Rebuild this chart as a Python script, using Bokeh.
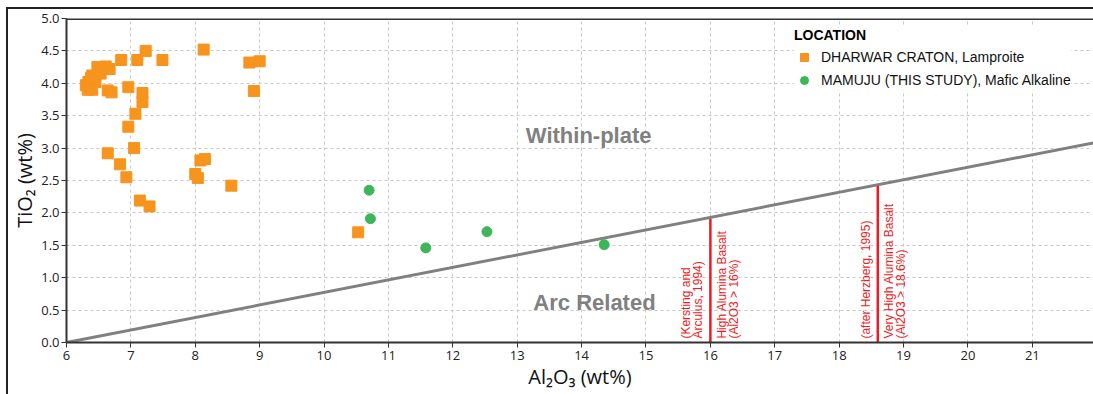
from bokeh.plotting import figure
from bokeh.models import (ColumnDataSource, Span, Legend, LegendItem, Range1d,
                          FixedTicker, CustomJSTickFormatter)
from bokeh.core.properties import value
from bokeh.embed import file_html
from bokeh.resources import INLINE
import math

# ---- data ----
dharwar_al2o3 = [7.23, 6.85, 7.10, 7.49, 8.13, 8.84, 9.00, 8.91,
                 6.30, 6.34, 6.33, 6.40, 6.40, 6.45, 6.48, 6.53, 6.61, 6.67, 6.64, 6.70, 6.38, 6.56,
                 6.96, 7.18, 7.18, 7.07, 6.96, 7.05, 6.64, 6.83, 6.93, 7.14, 7.29,
                 8.08, 8.15, 8.00, 8.04, 8.56, 10.53]
dharwar_tio2 = [4.50, 4.36, 4.36, 4.36, 4.52, 4.32, 4.34, 3.88,
                3.97, 4.02, 3.90, 3.90, 4.12, 4.02, 4.25, 4.15, 4.26, 4.22, 3.89, 3.86, 4.08, 4.22,
                3.94, 3.85, 3.71, 3.53, 3.33, 3.00, 2.92, 2.75, 2.55, 2.19, 2.10,
                2.81, 2.83, 2.60, 2.54, 2.42, 1.70]
mamuju_al2o3 = [10.70, 10.72, 11.58, 12.53, 14.35]
mamuju_tio2 = [2.35, 1.91, 1.46, 1.71, 1.51]

boundary_x = [6.0, 22.0]
boundary_y = [0.0, 3.09]

hab_x = [16.0, 18.6]
hab_top = [1.91, 2.42]

ref_texts = ["(Kersting and", "Arculus, 1994)", "High Alumina Basalt", "(Al2O3 > 16%)",
             "(after Herzberg, 1995)", "Very High Alumina Basalt", "(Al2O3 > 18.6%)"]
ref_x = [16.0, 16.0, 16.0, 16.0, 18.6, 18.6, 18.6]
ref_dx = [-24, -12, 12, 24, -12, 11, 23]

region_texts = ["Within-plate", "Arc Related"]
region_x = [14.11, 14.2]
region_y = [3.19, 0.62]

x_ticks = list(range(6, 23))
y_ticks = [0.0, 0.5, 1.0, 1.5, 2.0, 2.5, 3.0, 3.5, 4.0, 4.5, 5.0]

ORANGE = "#F7941D"
GREEN = "#3DB65A"
RED = "#ED1C24"

p = figure(width=1085, height=385, output_backend="svg", toolbar_location=None,
           x_range=Range1d(6, 21.95), y_range=Range1d(0, 5.0),
           min_border_left=56, min_border_right=0, min_border_top=9, min_border_bottom=52)
p.margin = (9, 0, 0, 8)
p.styles = {"outline": "2px solid #222"}
p.outline_line_color = None
p.background_fill_color = "white"

# grid
for g in (p.xgrid[0], p.ygrid[0]):
    g.grid_line_color = "#c8c8c8"
    g.grid_line_dash = "3 3"
    g.grid_line_width = 1
p.xaxis.ticker = FixedTicker(ticks=x_ticks)
p.yaxis.ticker = FixedTicker(ticks=y_ticks)
p.yaxis.formatter = CustomJSTickFormatter(code="return tick.toFixed(1);")

for ax in (p.xaxis[0], p.yaxis[0]):
    ax.axis_line_color = "#333333"
    ax.axis_line_width = 2
    ax.major_tick_line_color = "#333333"
    ax.major_tick_out = 5
    ax.major_tick_in = 0
    ax.minor_tick_line_color = None
    ax.major_label_text_font = "Open Sans"
    ax.major_label_text_font_size = "13px"
    ax.major_label_text_color = "#222222"
    ax.axis_label_text_font = "Open Sans"
    ax.axis_label_text_font_style = "normal"
    ax.axis_label_text_color = "#111111"
p.xaxis.axis_label = "Al₂O₃ (wt%)"
p.yaxis.axis_label = "TiO₂ (wt%)"
p.xaxis.axis_label_text_font_size = "20px"
p.yaxis.axis_label_text_font_size = "20px"
p.xaxis.major_label_standoff = 3
p.yaxis.major_label_standoff = 2
p.xaxis.axis_label_standoff = 0
p.yaxis.axis_label_standoff = 0

# top frame line
p.add_layout(Span(location=5.0, dimension="width", line_color="#333333", line_width=3))

# boundary line
p.line(boundary_x, boundary_y, line_color="#808080", line_width=3)

# red lines
p.segment(x0=hab_x, y0=[0, 0], x1=hab_x, y1=hab_top, line_color=RED, line_width=2.5)

src = ColumnDataSource(dict(x=ref_x, y=[0.06] * len(ref_x), text=ref_texts, dx=ref_dx))
p.text(x="x", y="y", text="text", x_offset="dx", source=src, angle=math.pi / 2,
       text_align="left", text_baseline="middle", text_color=RED,
       text_font=value("Liberation Sans"), text_font_size="12px")

# region labels
p.text(x=region_x, y=region_y, text=region_texts,
       text_align="center", text_baseline="middle", text_color="#808080",
       text_font=value("Liberation Sans"), text_font_size="22px", text_font_style="bold")

r1 = p.scatter(dharwar_al2o3, dharwar_tio2, marker="square", size=11,
               fill_color=ORANGE, line_color=ORANGE)
r2 = p.scatter(mamuju_al2o3, mamuju_tio2, marker="circle", size=10,
               fill_color=GREEN, line_color=GREEN)

legend = Legend(items=[LegendItem(label="DHARWAR CRATON, Lamproite", renderers=[r1]),
                       LegendItem(label="MAMUJU (THIS STUDY), Mafic Alkaline", renderers=[r2])],
                location=(728, 252), title="LOCATION")
legend.title_text_font = "Liberation Sans"
legend.title_text_font_style = "bold"
legend.title_text_font_size = "14px"
legend.title_text_color = "#000000"
legend.title_standoff = 4
legend.label_text_font = "Liberation Sans"
legend.label_text_font_size = "14px"
legend.label_text_color = "#111111"
legend.glyph_width = 20
legend.glyph_height = 20
legend.label_standoff = 7
legend.label_height = 20
legend.spacing = 3
legend.padding = 4
legend.margin = 0
legend.border_line_color = None
legend.background_fill_color = "white"
legend.background_fill_alpha = 1.0
p.add_layout(legend)

open("out.html", "w").write(file_html(p, INLINE))
